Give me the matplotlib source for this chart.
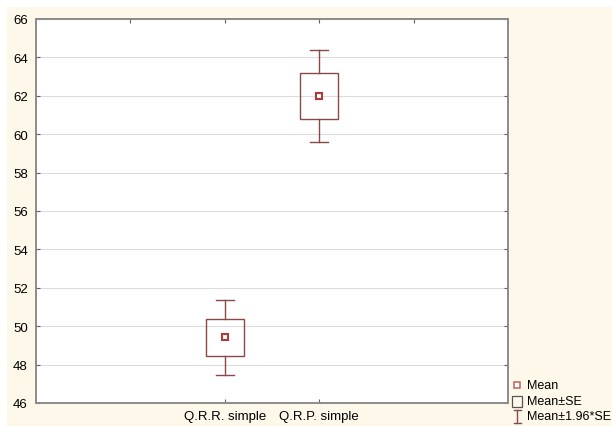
import numpy as np
import matplotlib
matplotlib.use("Agg")
import matplotlib.pyplot as plt
from matplotlib.lines import Line2D
from matplotlib.patches import Rectangle

plt.rcParams.update({"font.family": ["Liberation Sans", "DejaVu Sans"], "font.size": 9.5})

groups = ["Q.R.R. simple", "Q.R.P. simple"]
means = [49.42, 61.99]
se = [0.98, 1.20]
ci = [1.94, 2.39]          # 1.96*SE
yticks = list(range(46, 67, 2))

RED = "#8a4848"
DOT = "#b03a3a"
CREAM = "#fdf8ea"

fig = plt.figure(figsize=(6.12, 4.27), dpi=100, facecolor="white")
fig.add_artist(Rectangle((7 / 612, 0), 1, (427 - 8) / 427, transform=fig.transFigure,
                         facecolor=CREAM, edgecolor="none", zorder=-10))
ax = fig.add_axes([36 / 612, 23 / 427, 472 / 612, 384 / 427])
ax.set_facecolor("white")

xs = np.array([2, 3])
bw, cw = 0.40, 0.19
for x, m, s, c in zip(xs, means, se, ci):
    ax.add_patch(Rectangle((x - bw / 2, m - s), bw, 2 * s, facecolor="none",
                           edgecolor=RED, lw=1.0, zorder=3))
    ax.plot([x, x], [m + s, m + c], color=RED, lw=1.0, zorder=3)
    ax.plot([x, x], [m - s, m - c], color=RED, lw=1.0, zorder=3)
    ax.plot([x - cw / 2, x + cw / 2], [m + c] * 2, color=RED, lw=1.0, zorder=3)
    ax.plot([x - cw / 2, x + cw / 2], [m - c] * 2, color=RED, lw=1.0, zorder=3)
    ax.plot([x], [m], marker="s", ms=5, mfc="white", mec=DOT, mew=1.5, zorder=4)

ax.set_xlim(0, 5)
ax.set_ylim(46, 66)
ax.set_yticks(yticks)
ax.set_xticks(xs)
ax.set_xticklabels(groups)
ax.yaxis.grid(True, color="#dcdcdc", lw=0.8)
ax.set_axisbelow(True)
ax.tick_params(direction="in", length=3, color="#606060", right=True, pad=6)
ax.tick_params(axis="x", pad=5)
sec = ax.secondary_xaxis("top")
sec.set_xticks([1, 2, 3, 4])
sec.set_xticklabels([])
sec.tick_params(direction="in", length=3, color="#606060")
for sp in list(ax.spines.values()) + list(sec.spines.values()):
    sp.set_color("#8c8c8c")
    sp.set_linewidth(1.4)

# legend outside axes, bottom right
def fy(py):
    return 1 - py / 427

def fx(px):
    return px / 612

fig.add_artist(Line2D([fx(517)], [fy(386)], marker="s", ms=4, mfc="white", mec="#c06060",
                      mew=1.1, transform=fig.transFigure))
fig.add_artist(Rectangle((fx(512), fy(408)), 10 / 612, 11 / 427, facecolor="none",
                         edgecolor="#555555", lw=0.9, transform=fig.transFigure))
fig.add_artist(Line2D([fx(517), fx(517)], [fy(411), fy(424)], color=RED, lw=1.0,
                      transform=fig.transFigure))
for yy in (411, 424):
    fig.add_artist(Line2D([fx(513.5), fx(520.5)], [fy(yy), fy(yy)], color=RED, lw=1.0,
                          transform=fig.transFigure))
for label, py in [("Mean", 386), ("Mean±SE", 402), ("Mean±1.96*SE", 417)]:
    fig.text(fx(527), fy(py), label, va="center", ha="left", fontsize=9)

fig.savefig("out.png", dpi=100, facecolor=fig.get_facecolor())
